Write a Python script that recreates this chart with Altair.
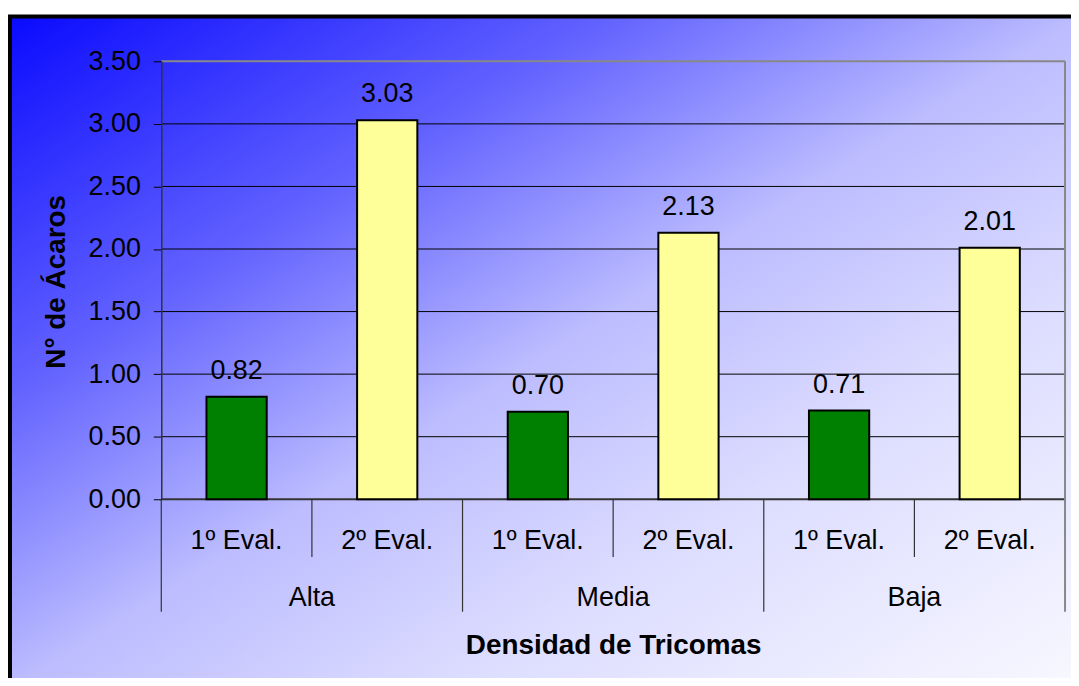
import altair as alt
import pandas as pd

# ---- data ----
groups = ["Alta", "Media", "Baja"]
evals = ["1º Eval.", "2º Eval."]
values_1 = [0.82, 0.70, 0.71]
values_2 = [3.03, 2.13, 2.01]
y_ticks = [0.0, 0.5, 1.0, 1.5, 2.0, 2.5, 3.0, 3.5]

rows = []
for g, v1, v2 in zip(groups, values_1, values_2):
    rows.append({"cat": f"{g} | {evals[0]}", "group": g, "sub": evals[0], "value": v1})
    rows.append({"cat": f"{g} | {evals[1]}", "group": g, "sub": evals[1], "value": v2})
df = pd.DataFrame(rows)
cats = list(df["cat"])
n = len(cats)

W, H = 908, 440
FONT = "Liberation Sans"
FS = 27      # tick / category / value labels
TFS = 28     # bold axis titles

x_band = alt.X("cat:N", sort=cats,
               scale=alt.Scale(domain=cats, paddingInner=0.6, paddingOuter=0.3),
               axis=None)
y_scale = alt.Scale(domain=[0, 3.5], nice=False, zero=True)

gradient = alt.LinearGradient(
    gradient="linear", x1=0, y1=0, x2=1, y2=1,
    stops=[
        alt.GradientStop(offset=0.0, color="#0a0aff"),
        alt.GradientStop(offset=0.28, color="#6262ff"),
        alt.GradientStop(offset=0.5, color="#bcbcff"),
        alt.GradientStop(offset=0.7, color="#dcdcff"),
        alt.GradientStop(offset=1.0, color="#f8f8ff"),
    ],
)

bg = alt.Chart(alt.Data(values=[{}])).mark_rect(
    fill=gradient, stroke="black", strokeWidth=4
).encode(
    x=alt.value(-152), x2=alt.value(W + 16),
    y=alt.value(-45), y2=alt.value(H + 190),
)

y_axis = alt.Axis(
    values=y_ticks, format=".2f", grid=False,
    tickSize=8, tickColor="black", tickWidth=1,
    domainColor="#333333", domainWidth=1.5,
    labelFont=FONT, labelFontSize=FS, labelColor="black", labelPadding=13,
    title="N° de Ácaros", titleFont=FONT, titleFontSize=TFS, titleFontWeight="bold",
    titleColor="black", titleAngle=270, titleX=-105, titleY=H / 2 + 1,
    titleAlign="center", titleBaseline="middle", zindex=1,
)


def Y(field="value"):
    return alt.Y(f"{field}:Q", scale=y_scale, axis=y_axis)


grid = alt.Chart(pd.DataFrame({"value": y_ticks[1:-1]})).mark_rule(
    color="black", strokeWidth=1
).encode(y=Y())

zero_line = alt.Chart(pd.DataFrame({"value": y_ticks[:1]})).mark_rule(
    color="#333333", strokeWidth=2
).encode(y=Y())

top_border = alt.Chart(pd.DataFrame({"value": y_ticks[-1:]})).mark_rule(
    color="#888888", strokeWidth=2
).encode(y=Y())

bars = alt.Chart(df).mark_bar(stroke="black", strokeWidth=2).encode(
    x=x_band,
    y=Y(),
    color=alt.Color("sub:N", scale=alt.Scale(domain=evals, range=["#008000", "#ffff99"]),
                    legend=None),
)

value_labels = alt.Chart(df).mark_text(
    font=FONT, fontSize=FS, color="black", baseline="alphabetic", dy=-18
).encode(
    x=x_band,
    y=Y(),
    text=alt.Text("value:Q", format=".2f"),
)

sub_labels = alt.Chart(df).mark_text(
    font=FONT, fontSize=FS, color="black", baseline="alphabetic"
).encode(x=x_band, y=alt.value(490), text="sub:N")

main = alt.layer(bars, value_labels, sub_labels)

# ---- hierarchical axis helpers (positions in category units) ----
aux_scale = alt.Scale(domain=[0, n], nice=False, zero=False)
x_axis_aux = alt.Axis(
    labels=False, ticks=False, domain=False, grid=False,
    title="Densidad de Tricomas", titleFont=FONT, titleFontSize=TFS,
    titleFontWeight="bold", titleColor="black",
    titleX=W / 2, titleY=155, titleAlign="center", titleBaseline="alphabetic",
    zindex=1,
)


def XA():
    return alt.X("pos:Q", scale=aux_scale, axis=x_axis_aux)


sub_div = alt.Chart(pd.DataFrame({"pos": [2 * i + 1 for i in range(len(groups))]})).mark_rule(
    color="#333333", strokeWidth=1.2
).encode(x=XA(), y=alt.value(H), y2=alt.value(H + 58))

grp_div = alt.Chart(pd.DataFrame({"pos": [2 * i for i in range(len(groups))]})).mark_rule(
    color="#333333", strokeWidth=1.2
).encode(x=XA(), y=alt.value(H), y2=alt.value(H + 113))

right_border = alt.Chart(pd.DataFrame({"pos": [n]})).mark_rule(
    color="#888888", strokeWidth=2
).encode(x=XA(), y=alt.value(0), y2=alt.value(H + 113))

grp_labels = alt.Chart(pd.DataFrame({"pos": [2 * i + 1 for i in range(len(groups))],
                                     "group": groups})).mark_text(
    font=FONT, fontSize=FS, color="black", baseline="alphabetic"
).encode(x=XA(), y=alt.value(H + 107), text="group:N")

aux = alt.layer(sub_div, grp_div, right_border, grp_labels)

chart = alt.layer(bg, grid, zero_line, top_border, main, aux).resolve_scale(
    x="independent"
).properties(
    width=W, height=H,
    padding={"left": 154, "top": 52, "right": 6, "bottom": 178},
    autosize="none",
).configure_view(stroke=None).configure(background="white")

chart.save("out.html", embed_options={"renderer": "svg", "actions": False})
